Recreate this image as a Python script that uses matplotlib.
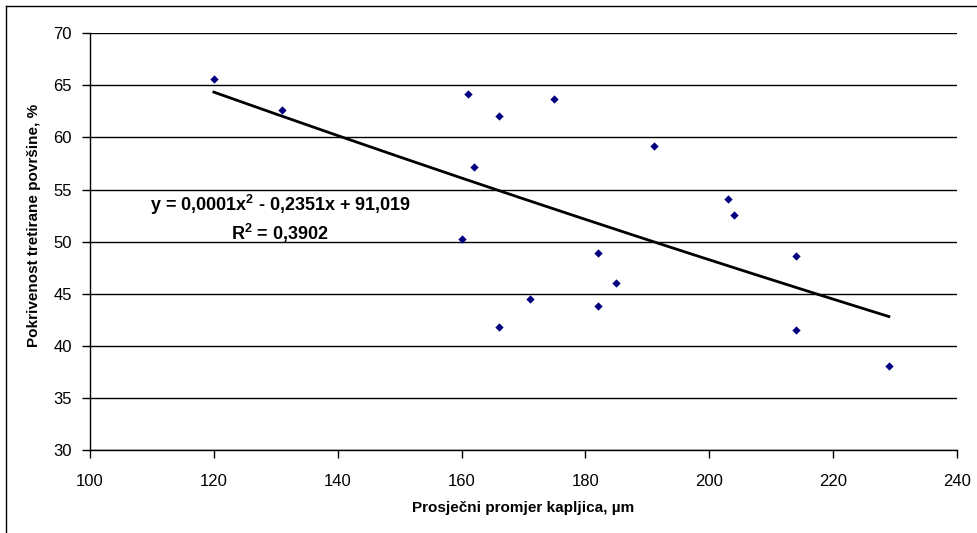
import numpy as np
import matplotlib
matplotlib.use("Agg")
import matplotlib.pyplot as plt
from matplotlib.lines import Line2D

plt.rcParams['font.family'] = ['Liberation Sans', 'DejaVu Sans']
plt.rcParams['mathtext.default'] = 'regular'

# droplet diameter (um) and coverage (%)
promjer = [120, 131, 160, 161, 162, 166, 166, 171, 175, 182, 182, 185, 191, 203, 204, 214, 214, 229]
pokrivenost = [65.6, 62.6, 50.3, 64.2, 57.2, 62.1, 41.8, 44.5, 63.7, 48.9, 43.8, 46.0, 59.2, 54.1, 52.6, 48.6, 41.5, 38.1]

x_ticks = [100, 120, 140, 160, 180, 200, 220, 240]
y_ticks = [30, 35, 40, 45, 50, 55, 60, 65, 70]

eq_text = 'y = 0,0001x$^2$ - 0,2351x + 91,019'
r2_text = 'R$^2$ = 0,3902'

fig = plt.figure(figsize=(9.77, 5.33), dpi=100)
ax = fig.add_axes([90/977, 83/533, 867/977, 416.7/533])

# polynomial trend line (order 2), like the spreadsheet one
x = np.array(promjer, dtype=float)
y = np.array(pokrivenost)
coef = np.polyfit(x, y, 2)
xs = np.linspace(x.min(), x.max(), 200)
ax.plot(xs, np.polyval(coef, xs), color='black', lw=2, zorder=3)

ax.scatter(promjer, pokrivenost, marker='D', s=18, color='#000080', zorder=4, linewidths=0)

ax.set_xlim(100, 240)
ax.set_ylim(30, 70)
ax.set_xticks(x_ticks)
ax.set_yticks(y_ticks)
ax.yaxis.grid(True, color='black', lw=1)
ax.set_axisbelow(True)
for s in ['top', 'right']:
    ax.spines[s].set_visible(False)
ax.spines['left'].set_linewidth(1)
ax.spines['bottom'].set_linewidth(1)
ax.tick_params(axis='both', direction='out', length=6, width=1, labelsize=12)
ax.tick_params(axis='y', pad=7)
ax.tick_params(axis='x', pad=11)

ax.text(130.7, 53.5, eq_text, fontsize=13, fontweight='bold', ha='center', va='center')
ax.text(130.7, 50.8, r2_text, fontsize=13, fontweight='bold', ha='center', va='center')

fig.text(523/977, 1 - 508/533, 'Prosječni promjer kapljica, µm', fontsize=11,
         fontweight='bold', ha='center', va='center')
fig.text(34/977, 1 - 225/533, 'Pokrivenost tretirane površine, %', fontsize=11,
         fontweight='bold', ha='center', va='center', rotation=90)

# outer frame: only the left and top edges are visible in the picture
fig.add_artist(Line2D([6/977, 6/977], [0, 1 - 6/533], transform=fig.transFigure, color='black', lw=1))
fig.add_artist(Line2D([6/977, 1], [1 - 6/533, 1 - 6/533], transform=fig.transFigure, color='black', lw=1))

fig.savefig('out.png', dpi=100)
